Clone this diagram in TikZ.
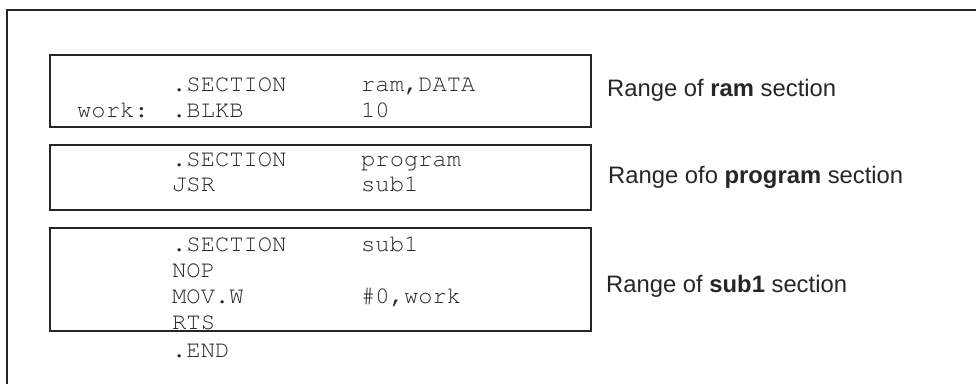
\documentclass[tikz,border=0pt]{standalone}
\usepackage[T1]{fontenc}
\usepackage{fontspec}
\setmainfont{Liberation Sans}
\newcommand\codefont{\fontencoding{T1}\fontfamily{pcr}\selectfont}
\begin{document}
\begin{tikzpicture}[x=1pt,y=-1pt,
  frame/.style={draw=black!85,line width=2pt},
  secbox/.style={frame,rectangle,inner sep=0pt,minimum width=541pt},
  code/.style={anchor=base west,inner sep=0pt,text=black!85,font=\codefont\fontsize{23.8}{26}\selectfont},
  rangelbl/.style={anchor=base west,inner sep=0pt,text=black!85,font=\fontsize{23.8}{26}\selectfont}]
\useasboundingbox (0,0) rectangle (976,383);
% open outer frame (left and top edges)
\draw[frame] (7,390) -- (7,10) -- (980,10);
% section boxes
\node[secbox,minimum height=72pt] (ram) at (320.5,91) {};
\node[secbox,minimum height=65pt] (prog) at (320.5,177.5) {};
\node[secbox,minimum height=103pt] (sub) at (320.5,279.5) {};
% ram section
\node[code] (l1a) at (172,91) {.SECTION};
\node[code] (l1b) at (361,91) {ram,DATA};
\node[code] (l2l) at (77,117) {work:};
\node[code] (l2a) at (172,117) {.BLKB};
\node[code] (l2b) at (361,117) {10};
% program section
\node[code] (l3a) at (172,166) {.SECTION};
\node[code] (l3b) at (361,166) {program};
\node[code] (l4a) at (172,191) {JSR};
\node[code] (l4b) at (361,191) {sub1};
% sub1 section
\node[code] (l5a) at (172,251) {.SECTION};
\node[code] (l5b) at (361,251) {sub1};
\node[code] (l6a) at (172,277) {NOP};
\node[code] (l7a) at (172,303) {MOV.W};
\node[code] (l7b) at (361,303) {\#0,work};
\node[code] (l8a) at (172,329) {RTS};
\node[code] (l9a) at (172,357) {.END};
% range labels
\node[rangelbl] (rram) at (607,96) {Range of \textbf{ram} section};
\node[rangelbl] (rprog) at (608,183) {Range ofo \textbf{program} section};
\node[rangelbl] (rsub) at (606,292) {Range of \textbf{sub1} section};
\end{tikzpicture}
\end{document}
